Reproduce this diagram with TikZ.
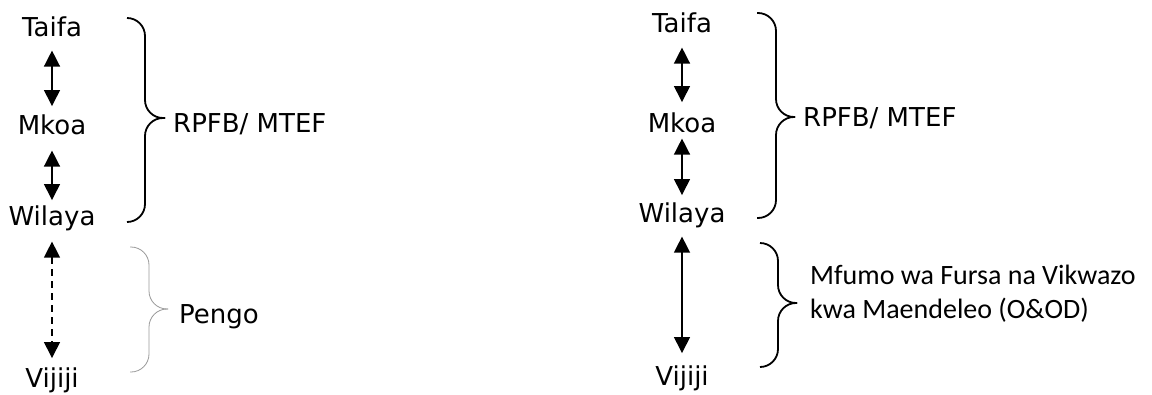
\documentclass[tikz,border=0pt]{standalone}
\usepackage{fontspec}
\setmainfont{DejaVu Sans}
\newfontfamily\carlito{Carlito}
\usetikzlibrary{arrows.meta}

\begin{document}
\begin{tikzpicture}[x=1pt,y=-1pt,draw=black,
  level/.style={inner sep=0pt,anchor=base,font=\fontsize{26}{31}\selectfont},
  note/.style={inner sep=0pt,anchor=base west,font=\fontsize{26}{31}\selectfont},
  link/.style={<->,>={Triangle[length=16pt,width=16pt]},line width=1.4pt},
  brace/.style={line width=1.8pt,rounded corners=18pt},
  faintbrace/.style={gray!80,line width=0.8pt,rounded corners=18pt}]
\useasboundingbox (0,0) rectangle (1152,394);

\node[level] (taifaL) at (52,36) {Taifa};
\node[level] (mkoaL) at (52,134) {Mkoa};
\node[level] (wilayaL) at (52,225) {Wilaya};
\node[level] (vijijiL) at (52,387) {Vijiji};
\draw[link,shorten <=14pt,shorten >=8pt] (taifaL.south) -- (mkoaL.north);
\draw[link,shorten <=16pt,shorten >=5pt] (mkoaL.south) -- (wilayaL.north);
\draw[link,dash pattern=on 7pt off 5pt,shorten <=11pt,shorten >=9pt] (wilayaL.south) -- (vijijiL.north);
\draw[brace] (127,18) -- (145,18) -- (145,118) -- (165,118);
\draw[brace] (127,222) -- (145,222) -- (145,118) -- (165,118);
\draw[faintbrace] (130,247) -- (149,247) -- (149,309) -- (168,309);
\draw[faintbrace] (130,372) -- (149,372) -- (149,309) -- (168,309);
\node[note] (rpfbL) at (173,132) {RPFB/ MTEF};
\node[note] (pengo) at (179,323) {Pengo};

\node[level] (taifaR) at (682,32) {Taifa};
\node[level] (mkoaR) at (682,132) {Mkoa};
\node[level] (wilayaR) at (682,222) {Wilaya};
\node[level] (vijijiR) at (682,385) {Vijiji};
\draw[link,shorten <=15pt,shorten >=10pt] (taifaR.south) -- (mkoaR.north);
\draw[link,shorten <=6pt,shorten >=7pt] (mkoaR.south) -- (wilayaR.north);
\draw[link,shorten <=9pt,shorten >=12pt] (wilayaR.south) -- (vijijiR.north);
\draw[brace] (757,13) -- (776,13) -- (776,117) -- (795,117);
\draw[brace] (757,218) -- (776,218) -- (776,117) -- (795,117);
\draw[brace] (760,243) -- (778,243) -- (778,303) -- (797,303);
\draw[brace] (760,367) -- (778,367) -- (778,303) -- (797,303);
\node[note] (rpfbR) at (803,126) {RPFB/ MTEF};
\node[note,align=left,font=\carlito\fontsize{28}{34}\selectfont] (oaod) at (810,318)
  {Mfumo wa Fursa na Vikwazo\\kwa Maendeleo (O\&OD)};

\end{tikzpicture}
\end{document}
